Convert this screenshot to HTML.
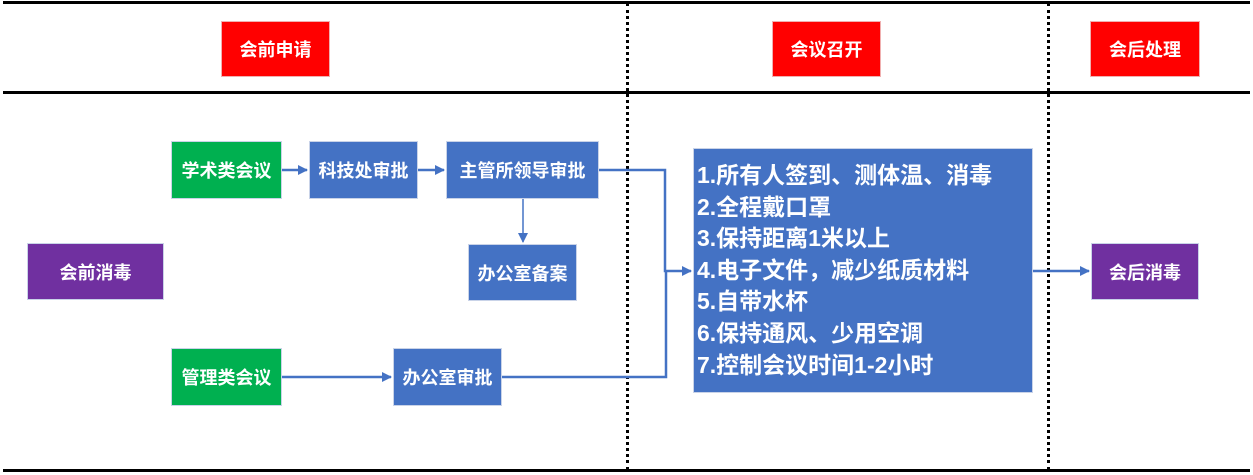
<!DOCTYPE html>
<html><head><meta charset="utf-8"><style>
body{margin:0;width:1253px;height:475px;background:#fff;position:relative;overflow:hidden;font-family:"Liberation Sans","Noto Sans CJK SC",sans-serif;}
.b{position:absolute;color:#fff;display:flex;align-items:center;justify-content:center;font-weight:bold;font-size:18px;box-sizing:border-box;border:1px solid #c9d3e8;white-space:nowrap;}
.r{background:#ff0000;border-color:#f0b0b0;}
.g{background:#00b050;}
.bl{background:#4472c4;}
.p{background:#7030a0;}
.hl{position:absolute;left:3px;width:1247px;height:3px;background:#000;}
.vd{position:absolute;top:3px;height:467px;border-left:3px dotted #000;}
.big{position:absolute;left:693px;top:148px;width:340px;height:245px;background:#4472c4;border:1px solid #c9d3e8;box-sizing:border-box;color:#fff;font-weight:bold;font-size:23px;line-height:31.6px;padding:11px 0 0 3px;white-space:nowrap;}
</style></head><body>
<div class="hl" style="top:1px"></div>
<div class="hl" style="top:91px"></div>
<div class="hl" style="top:469px"></div>
<div class="vd" style="left:626px"></div>
<div class="vd" style="left:1047px"></div>
<div class="b r" style="left:221px;top:21px;width:109px;height:56px">会前申请</div>
<div class="b r" style="left:772px;top:21px;width:109px;height:56px">会议召开</div>
<div class="b r" style="left:1090px;top:21px;width:110px;height:56px">会后处理</div>
<div class="b p" style="left:27px;top:243px;width:137px;height:57px">会前消毒</div>
<div class="b g" style="left:171px;top:141px;width:111px;height:58px">学术类会议</div>
<div class="b bl" style="left:309px;top:141px;width:109px;height:58px">科技处审批</div>
<div class="b bl" style="left:446px;top:141px;width:153px;height:58px">主管所领导审批</div>
<div class="b bl" style="left:468px;top:244px;width:109px;height:57px">办公室备案</div>
<div class="b g" style="left:171px;top:348px;width:111px;height:58px">管理类会议</div>
<div class="b bl" style="left:393px;top:348px;width:109px;height:58px">办公室审批</div>
<div class="big">1.所有人签到、测体温、消毒<br>2.全程戴口罩<br>3.保持距离1米以上<br>4.电子文件，减少纸质材料<br>5.自带水杯<br>6.保持通风、少用空调<br>7.控制会议时间1-2小时</div>
<div class="b p" style="left:1091px;top:243px;width:108px;height:57px">会后消毒</div>
<svg width="1253" height="475" style="position:absolute;left:0;top:0">
<defs><marker id="a" markerWidth="10" markerHeight="10" refX="9" refY="5" orient="auto" markerUnits="userSpaceOnUse"><path d="M0,0 L10,5 L0,10z" fill="#4472c4"/></marker></defs>
<g stroke="#4472c4" stroke-width="2.5" fill="none">
<line x1="282" y1="170" x2="307" y2="170" marker-end="url(#a)"/>
<line x1="418" y1="170" x2="444" y2="170" marker-end="url(#a)"/>
<line x1="523" y1="199" x2="523" y2="242" stroke-width="1.5" marker-end="url(#a)"/>
<polyline points="599,170 665,170 665,271 691,271" marker-end="url(#a)"/>
<polyline points="502,377 666,377 666,271"/>
<line x1="282" y1="377" x2="391" y2="377" marker-end="url(#a)"/>
<line x1="1033" y1="271" x2="1089" y2="271" marker-end="url(#a)"/>
</g></svg>
</body></html>
